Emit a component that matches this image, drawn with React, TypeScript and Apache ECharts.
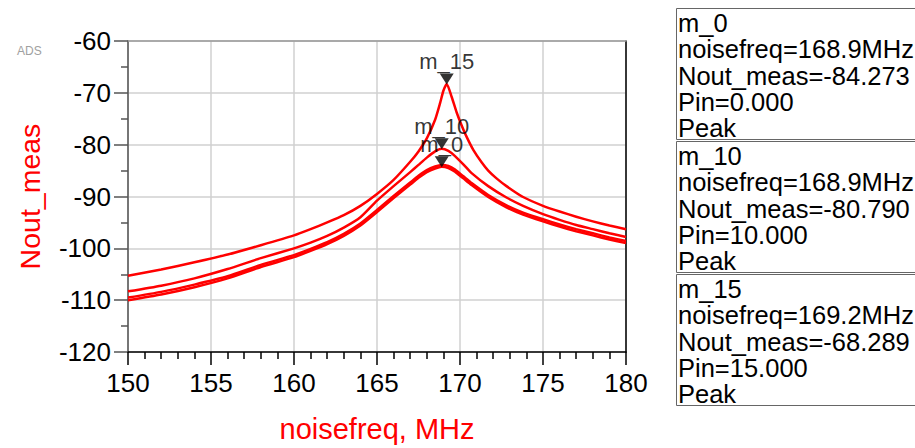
import React, { useEffect, useRef } from "react";
import * as echarts from "echarts";

// ---- data ----
const freq15 = [150, 152, 154, 156, 158, 160, 161, 162, 163, 164, 165, 166, 167, 167.5, 168, 168.5, 168.8, 169.0, 169.2, 169.5, 169.8, 170.1, 170.4, 170.8, 171.3, 171.7, 172.2, 172.8, 173.8, 175, 176, 177, 178, 179, 180];
const nout15 = [-105.3, -104.1, -102.7, -101.2, -99.4, -97.5, -96.3, -95.0, -93.6, -91.8, -89.5, -86.8, -83.3, -81.3, -78.8, -75.2, -72.0, -69.6, -68.289, -70.8, -73.8, -76.3, -78.5, -81.0, -83.4, -85.0, -86.5, -88.0, -90.1, -91.8, -92.9, -93.9, -94.8, -95.6, -96.3];

const freq10 = [150, 152, 154, 156, 158, 160, 161, 162, 163, 164, 165, 166, 167, 167.5, 168, 168.5, 168.9, 169.3, 169.7, 170.2, 170.7, 171.7, 172.8, 173.8, 175, 176, 177, 178, 179, 180];
const nout10 = [-108.3, -107.2, -105.8, -104.0, -101.9, -100.0, -98.9, -97.6, -96.0, -94.0, -90.8, -88.0, -85.3, -83.9, -82.5, -81.3, -80.79, -81.2, -82.2, -83.8, -85.5, -88.0, -90.2, -91.8, -93.4, -94.5, -95.5, -96.3, -97.1, -97.8];

const freq5 = [150, 152, 154, 156, 158, 160, 161, 162, 163, 164, 165, 166, 167, 167.5, 168, 168.5, 168.9, 169.3, 169.7, 170.2, 170.7, 171.7, 172.8, 173.8, 175, 176, 177, 178, 179, 180];
const nout5 = [-109.5, -108.4, -107.0, -105.4, -103.2, -101.3, -100.1, -98.8, -97.2, -95.2, -92.6, -89.9, -87.3, -86.0, -84.9, -84.2, -83.9, -84.1, -84.8, -86.1, -87.4, -89.7, -91.7, -93.1, -94.4, -95.4, -96.3, -97.1, -97.9, -98.6];

const freq0 = [150, 152, 154, 156, 158, 160, 161, 162, 163, 164, 165, 166, 167, 167.5, 168, 168.5, 168.9, 169.3, 169.7, 170.2, 170.7, 171.7, 172.8, 173.8, 175, 176, 177, 178, 179, 180];
const nout0 = [-110.0, -108.9, -107.5, -105.8, -103.6, -101.7, -100.5, -99.2, -97.6, -95.6, -93.0, -90.3, -87.7, -86.4, -85.3, -84.6, -84.273, -84.5, -85.2, -86.5, -87.8, -90.1, -92.1, -93.5, -94.8, -95.8, -96.7, -97.5, -98.3, -99.0];

const markerNames = ["m_0", "m_10", "m_15"];
const markerFreqs = [168.9, 168.9, 169.2];
const markerVals = [-84.273, -80.79, -68.289];
const markerPins = [0, 10, 15];

const xTicks = { min: 150, max: 180, interval: 5 };
const yTicks = { min: -120, max: -60, interval: 10 };

const FONT = "Liberation Sans, Arial, sans-serif";

const pairs = (xs: number[], ys: number[]) => xs.map((x, i) => [x, ys[i]]);

export default function App() {
  const ref = useRef<HTMLDivElement>(null);
  useEffect(() => {
    if (!ref.current) return;
    const chart = echarts.init(ref.current, null, { renderer: "svg" });

    const curve = (name: string, xs: number[], ys: number[]) => ({
      type: "line",
      name,
      data: pairs(xs, ys),
      showSymbol: false,
      smooth: 0.2,
      lineStyle: { color: "#ff0000", width: 2.5, join: "round" },
      z: 3,
    });

    const boxes: any[] = [];
    const boxTop = [8.5, 141.5, 274.5];
    markerNames.forEach((n, i) => {
      boxes.push({
        type: "rect",
        shape: { x: 676.5, y: boxTop[i], width: 260, height: 131 },
        style: { fill: "#fff", stroke: "#666", lineWidth: 1 },
      });
      boxes.push({
        type: "text",
        x: 678,
        y: boxTop[i] + 1,
        style: {
          text: [
            n,
            `noisefreq=${markerFreqs[i].toFixed(1)}MHz`,
            `Nout_meas=${markerVals[i].toFixed(3)}`,
            `Pin=${markerPins[i].toFixed(3)}`,
            "Peak",
          ].join("\n"),
          font: `25.5px ${FONT}`,
          fill: "#000",
          lineHeight: 26.4,
          verticalAlign: "top",
        },
      });
    });

    chart.setOption({
      animation: false,
      backgroundColor: "#fff",
      grid: { left: 128, right: 289, top: 41, bottom: 91.5 },
      xAxis: [
        {
          type: "value",
          min: xTicks.min,
          max: xTicks.max,
          interval: xTicks.interval,
          name: "noisefreq, MHz",
          nameLocation: "middle",
          nameGap: 62,
          nameTextStyle: { color: "#ff0000", fontSize: 29, fontFamily: FONT },
          axisLine: { show: true, onZero: false, lineStyle: { color: "#000", width: 1.5 } },
          axisTick: { show: true, length: 13, lineStyle: { color: "#000", width: 1.5 } },
          minorTick: { show: true, splitNumber: 5, length: 7, lineStyle: { color: "#000", width: 1.5 } },
          axisLabel: { color: "#000", fontSize: 26, fontFamily: FONT, margin: 18 },
          splitLine: { show: true, lineStyle: { color: "#d0d0d0", width: 1.5 } },
        },
        {
          type: "value",
          position: "top",
          min: xTicks.min,
          max: xTicks.max,
          axisLine: { show: true, onZero: false, lineStyle: { color: "#999", width: 1.5 } },
          axisTick: { show: false },
          axisLabel: { show: false },
          splitLine: { show: false },
        },
      ],
      yAxis: [
        {
          type: "value",
          min: yTicks.min,
          max: yTicks.max,
          interval: yTicks.interval,
          name: "Nout_meas",
          nameLocation: "middle",
          nameGap: 84,
          nameTextStyle: { color: "#ff0000", fontSize: 28.5, fontFamily: FONT },
          axisLine: { show: true, onZero: false, lineStyle: { color: "#555", width: 1.5 } },
          axisTick: { show: true, length: 14, lineStyle: { color: "#555", width: 1.5 } },
          minorTick: { show: true, splitNumber: 2, length: 7, lineStyle: { color: "#555", width: 1.5 } },
          axisLabel: { color: "#000", fontSize: 26, fontFamily: FONT, margin: 17 },
          splitLine: { show: true, lineStyle: { color: "#d0d0d0", width: 1.5 } },
        },
        {
          type: "value",
          position: "right",
          min: yTicks.min,
          max: yTicks.max,
          axisLine: { show: true, onZero: false, lineStyle: { color: "#000", width: 1.5 } },
          axisTick: { show: false },
          axisLabel: { show: false },
          splitLine: { show: false },
        },
      ],
      series: [
        curve("Pin=0", freq0, nout0),
        curve("Pin=5", freq5, nout5),
        curve("Pin=10", freq10, nout10),
        curve("Pin=15", freq15, nout15),
        {
          type: "scatter",
          data: markerNames.map((n, i) => ({ name: n, value: [markerFreqs[i], markerVals[i]] })),
          symbol: "triangle",
          symbolRotate: 180,
          symbolSize: [14, 11],
          symbolOffset: [0, -5],
          itemStyle: { color: "#000" },
          label: {
            show: true,
            position: "top",
            distance: 1,
            formatter: (p: any) => p.name,
            color: "#000",
            fontSize: 22,
            fontFamily: FONT,
          },
          z: 5,
        },
      ],
      graphic: [
        {
          type: "text",
          x: 17,
          y: 45,
          style: { text: "ADS", font: `12px ${FONT}`, fill: "#a0a0a0" },
        },
        ...boxes,
      ],
    });
    return () => chart.dispose();
  }, []);
  return (
    <div
      ref={ref}
      style={{ position: "fixed", left: 0, top: 0, width: 915, height: 448 }}
    />
  );
}
